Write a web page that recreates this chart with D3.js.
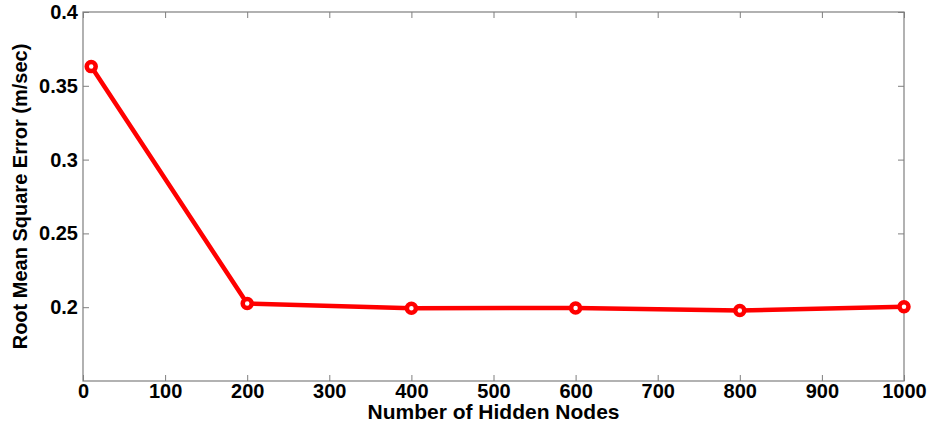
<!DOCTYPE html>
<html>
<head>
<meta charset="utf-8">
<script src="https://cdn.jsdelivr.net/npm/d3@7"></script>
<style>
  body { margin: 0; background: #fff; }
  text { font-family: "Liberation Sans", Arial, sans-serif; font-weight: bold; }
</style>
</head>
<body>
<div id="chart"></div>
<script>
// hidden nodes vs RMSE
var nodes = [10, 200, 400, 600, 800, 1000];
var rmse = [0.363, 0.2025, 0.1993, 0.1995, 0.1978, 0.2003];
var xTicks = [0, 100, 200, 300, 400, 500, 600, 700, 800, 900, 1000];
var yTicks = [0.2, 0.25, 0.3, 0.35, 0.4];

var width = 931, height = 425;
var margin = {top: 12, right: 27, bottom: 44, left: 83};
var w = width - margin.left - margin.right,
    h = height - margin.top - margin.bottom;

var svg = d3.select("#chart").append("svg")
    .attr("width", width)
    .attr("height", height);

var g = svg.append("g")
    .attr("transform", "translate(" + margin.left + "," + margin.top + ")");

var x = d3.scaleLinear().domain([0, 1000]).range([0, w]);
var y = d3.scaleLinear().domain([0.15, 0.4]).range([h, 0]);

var axisColor = "#7f7f7f";

function styleAxis(sel, showText) {
  sel.select(".domain").remove();
  sel.selectAll(".tick line").attr("stroke", axisColor);
  sel.selectAll(".tick text")
    .attr("fill", "#000")
    .style("font-size", "20px")
    .style("display", showText ? null : "none");
}

g.append("g")
  .attr("transform", "translate(0," + h + ")")
  .call(d3.axisBottom(x).tickValues(xTicks).tickSize(-6).tickPadding(3).tickFormat(d3.format("d")))
  .call(styleAxis, true);

g.append("g")
  .call(d3.axisTop(x).tickValues(xTicks).tickSize(-6))
  .call(styleAxis, false);

g.append("g")
  .call(d3.axisLeft(y).tickValues(yTicks).tickSize(-6).tickPadding(5).tickFormat(function(d){ return String(d); }))
  .call(styleAxis, true);

g.append("g")
  .attr("transform", "translate(" + w + ",0)")
  .call(d3.axisRight(y).tickValues(yTicks).tickSize(-6))
  .call(styleAxis, false);

// box
g.append("rect")
  .attr("width", w)
  .attr("height", h)
  .attr("fill", "none")
  .attr("stroke", axisColor)
  .attr("stroke-width", 1.2);

var pts = nodes.map(function(n, i){ return {x: n, y: rmse[i]}; });

var line = d3.line()
  .x(function(d){ return x(d.x); })
  .y(function(d){ return y(d.y); });

g.append("path")
  .datum(pts)
  .attr("fill", "none")
  .attr("stroke", "#ff0000")
  .attr("stroke-width", 4.5)
  .attr("d", line);

g.selectAll("circle.pt")
  .data(pts)
  .enter().append("circle")
  .attr("class", "pt")
  .attr("cx", function(d){ return x(d.x); })
  .attr("cy", function(d){ return y(d.y); })
  .attr("r", 4.5)
  .attr("fill", "#fff")
  .attr("stroke", "#ff0000")
  .attr("stroke-width", 4.5);

svg.append("text")
  .attr("x", margin.left + w / 2)
  .attr("y", 419)
  .attr("text-anchor", "middle")
  .style("font-size", "21px")
  .text("Number of Hidden Nodes");

svg.append("text")
  .attr("transform", "translate(27," + (margin.top + h / 2) + ") rotate(-90)")
  .attr("text-anchor", "middle")
  .style("font-size", "20px")
  .text("Root Mean Square Error (m/sec)");
</script>
</body>
</html>
